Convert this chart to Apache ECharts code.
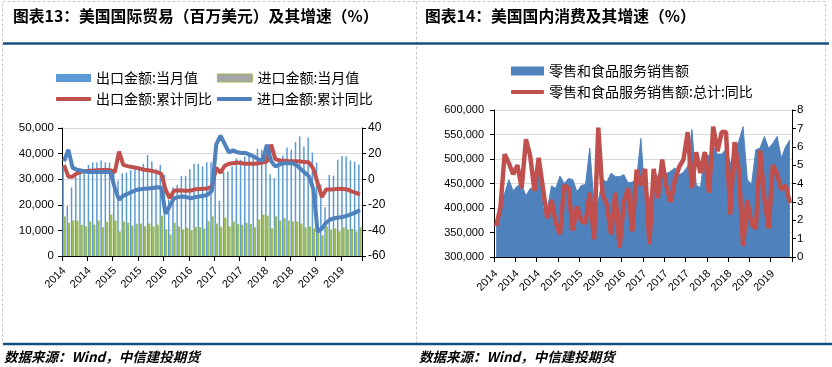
<!DOCTYPE html>
<html><head><meta charset="utf-8">
<script src="https://cdn.jsdelivr.net/npm/echarts@6/dist/echarts.min.js"></script>
<style>html,body{margin:0;padding:0;background:#fff}#c{width:832px;height:367px}</style>
</head><body><div id="c"></div>
<script>
// ---------- categories ----------
const tradeMonths = [
 '2014-01','2014-02','2014-03','2014-04','2014-05','2014-06','2014-07','2014-08','2014-09','2014-10','2014-11','2014-12',
 '2015-01','2015-02','2015-03','2015-04','2015-05','2015-06','2015-07','2015-08','2015-09','2015-10','2015-11','2015-12',
 '2016-01','2016-02','2016-03','2016-04','2016-05','2016-06','2016-07','2016-08','2016-09','2016-10','2016-11','2016-12',
 '2017-01','2017-02','2017-03','2017-04','2017-05','2017-06','2017-07','2017-08','2017-09','2017-10','2017-11','2017-12',
 '2018-01','2018-02','2018-03','2018-04','2018-05','2018-06','2018-07','2018-08','2018-09','2018-10','2018-11','2018-12',
 '2019-01','2019-02','2019-03','2019-04','2019-05','2019-06','2019-07','2019-08','2019-09','2019-10','2019-11'];
const retailMonths = [
 '2014-02','2014-03','2014-04','2014-05','2014-06','2014-07','2014-08','2014-09','2014-10','2014-11','2014-12',
 '2015-01','2015-02','2015-03','2015-04','2015-05','2015-06','2015-07','2015-08','2015-09','2015-10','2015-11','2015-12',
 '2016-01','2016-02','2016-03','2016-04','2016-05','2016-06','2016-07','2016-08','2016-09','2016-10','2016-11','2016-12',
 '2017-01','2017-02','2017-03','2017-04','2017-05','2017-06','2017-07','2017-08','2017-09','2017-10','2017-11','2017-12',
 '2018-01','2018-02','2018-03','2018-04','2018-05','2018-06','2018-07','2018-08','2018-09','2018-10','2018-11','2018-12',
 '2019-01','2019-02','2019-03','2019-04','2019-05','2019-06','2019-07','2019-08','2019-09','2019-10','2019-11'];

// ---------- series values ----------
const exportMonthly = [
 35000,19500,26800,31000,33000,33600,35600,36500,36500,37300,36600,36500,
 34000,29500,32300,32600,33600,34700,35000,36000,39400,36900,33900,35600,
 31700,21900,26800,27700,31300,31300,33900,36000,36000,35000,36600,36600,
 37000,21600,32900,33000,35000,38200,37600,38900,39800,38200,41900,41500,
 42100,31900,30400,37000,39300,42400,41500,44500,46700,42800,46300,40400,
 36500,27900,19000,31700,31400,37600,39100,38900,37300,36800,35700];
const importMonthly = [
 15500,13000,13900,13900,12200,11600,13500,12300,13900,11300,13400,16200,
 13900,9600,13500,13000,11900,12600,12700,11600,12700,11600,12300,15800,
 10400,8400,13000,11600,10400,11000,10000,11300,11300,10800,13600,15500,
 12700,11400,15000,11600,13500,12600,12200,13000,12600,11200,14300,16200,
 15800,10800,15500,13900,14800,13900,13500,13500,12700,11200,11600,10800,
 10400,8100,11600,10400,10800,9600,11200,10400,10600,9600,11200];
const exportYoY = [
 11,2,2,4.5,5.8,6.3,6.6,6.8,7,7.2,7.2,7,
 5.5,21.5,11.2,10.2,9.6,9,8.2,7.3,7,6.3,5.5,4.2,
 -8,-15,-9,-8.6,-8.8,-9,-8.8,-7.9,-7.6,-7.4,-7.2,-5.5,
 9,5,10.5,12,12.5,13,12.5,12,12,12,12.5,13,
 14,27,15.5,14.8,14.5,14.2,14,14,13.8,13.5,13,8,
 -3,-14,-8,-8,-7.8,-7.5,-7.6,-8,-9.5,-10.5,-12];
const importYoY = [
 14,23,9,7.5,6.8,6,5.7,5.7,5.7,5.7,5.7,5.5,
 -7,-16,-13,-11.5,-10,-8.5,-7.8,-7.5,-7.3,-6.8,-6.3,-6.5,
 -27,-21,-15,-14,-13.5,-14,-15,-14,-13.5,-13,-12,-9,
 27,34,27.5,21,22.5,21,20.5,20.5,19,17.5,15.5,14.5,
 27,14,10,11.5,12.5,12.5,12.5,11,8,5,2,-8,
 -41,-38.5,-34,-31.5,-30.5,-30,-29.5,-28.5,-27.3,-26,-24];
const retailSales = [
 370000,415000,430000,458000,435000,445000,447000,425000,440000,440000,490000,400000,
 395000,445000,440000,465000,450000,460000,458000,433000,446000,448000,522000,407000,
 415000,458000,453000,471000,464000,464000,468000,451000,453000,458000,542000,420000,
 415000,470000,465000,483000,470000,475000,482000,468000,473000,485000,560000,447000,
 441000,515000,505000,525000,510000,510000,520000,490000,519000,536000,566000,458000,
 448000,519000,522000,546000,522000,532000,546000,502000,525000,539000];
const retailYoY = [
 1.68,2.67,5.6,5.1,4.5,5,3.75,6.4,5.5,3.6,5.4,3.75,
 2.1,3.1,1.86,1.23,3.9,3.75,1.44,2.76,1.95,1.86,3.5,0.96,
 7.04,3.4,2.85,1.23,3.5,0.5,3.0,3.75,1.4,4.75,3.9,4.8,
 0.69,4.8,3.2,5.3,3.85,3.0,4.2,4.9,5.3,6.8,3.75,5.7,
 4.57,5.7,3.5,7.1,5.75,6.8,6.8,2.3,6.25,4.75,0.6,3.1,
 1.77,1.55,5.8,3.2,1.55,5.0,4.5,3.66,3.9,2.94];

// ---------- texts ----------
const titleLeft = '图表13：美国国际贸易（百万美元）及其增速（%）';
const titleRight = '图表14：美国国内消费及其增速（%）';
const sourceText = '数据来源：Wind，中信建投期货';
const nameExport = '出口金额:当月值', nameImport = '进口金额:当月值';
const nameExportYoY = '出口金额:累计同比', nameImportYoY = '进口金额:累计同比';
const nameRetail = '零售和食品服务销售额', nameRetailYoY = '零售和食品服务销售额:总计:同比';

const cjk = '"Noto Sans CJK SC", sans-serif';
const latin = '"Liberation Sans", Arial, sans-serif';
const fmt = v => String(v).replace(/\B(?=(\d{3})+(?!\d))/g, ',');
const yearOf = v => v.slice(0, 4);

const axisLineStyle = {show: true, lineStyle: {color: '#000', width: 1}};
const axisTickStyle = {show: true, length: 4, lineStyle: {color: '#000'}};
const gridLine = {show: true, lineStyle: {color: '#D9D9D9', width: 1}};
const yLabel = {color: '#000', fontSize: 11.5, fontFamily: latin, formatter: fmt};

const chart = echarts.init(document.getElementById('c'), null, {width: 832, height: 367});
chart.setOption({
  animation: false,
  backgroundColor: '#fff',
  title: [
    {text: titleLeft, left: 13, top: 8, padding: 0, textStyle: {fontSize: 15.8, fontWeight: 'bold', color: '#000', fontFamily: cjk}},
    {text: titleRight, left: 425, top: 8, padding: 0, textStyle: {fontSize: 15.8, fontWeight: 'bold', color: '#000', fontFamily: cjk}}
  ],
  graphic: [
    {type: 'rect', silent: true, shape: {x: 2.5, y: 1.5, width: 823, height: 342}, style: {fill: 'none', stroke: '#C8C8C8', lineWidth: 1, lineDash: [3, 2]}},
    {type: 'line', silent: true, shape: {x1: 416.5, y1: 1.5, x2: 416.5, y2: 343}, style: {stroke: '#C8C8C8', lineWidth: 1, lineDash: [3, 2]}},
    {type: 'line', silent: true, shape: {x1: 3, y1: 43.5, x2: 829, y2: 43.5}, style: {stroke: '#14507F', lineWidth: 2.5}},
    {type: 'line', silent: true, shape: {x1: 3, y1: 344, x2: 832, y2: 344}, style: {stroke: '#14507F', lineWidth: 2.5}},
    {type: 'text', silent: true, x: 4, y: 357, style: {text: sourceText, font: 'italic bold 13.5px "Noto Sans CJK SC"', fill: '#000', verticalAlign: 'middle', textVerticalAlign: 'middle'}},
    {type: 'text', silent: true, x: 419, y: 357, style: {text: sourceText, font: 'italic bold 13.5px "Noto Sans CJK SC"', fill: '#000', verticalAlign: 'middle', textVerticalAlign: 'middle'}}
  ],
  legend: [
    {data: [{name: nameExport}, {name: nameImport, itemStyle: {color: '#A5A5A5', borderColor: '#9BBB59', borderWidth: 1}}],
     left: 56, top: 71, padding: 0, icon: 'rect', itemWidth: 35, itemHeight: 8, itemGap: 19,
     textStyle: {fontSize: 14, color: '#000', fontFamily: cjk}},
    {data: [nameExportYoY, nameImportYoY], left: 56, top: 92, padding: 0, icon: 'roundRect', itemWidth: 35, itemHeight: 4, itemGap: 5,
     textStyle: {fontSize: 14, color: '#000', fontFamily: cjk}},
    {data: [nameRetail], left: 511, top: 64, padding: 0, icon: 'rect', itemWidth: 33, itemHeight: 9,
     textStyle: {fontSize: 14, color: '#000', fontFamily: cjk}},
    {data: [nameRetailYoY], left: 511, top: 85, padding: 0, icon: 'roundRect', itemWidth: 33, itemHeight: 4,
     textStyle: {fontSize: 14, color: '#000', fontFamily: cjk}}
  ],
  grid: [
    {left: 62, top: 128, width: 300, height: 128},
    {left: 494, top: 110, width: 298, height: 147}
  ],
  xAxis: [
    {type: 'category', gridIndex: 0, data: tradeMonths, boundaryGap: true,
     axisLine: axisLineStyle, axisTick: {show: true, interval: 5, length: 5, lineStyle: {color: '#000'}},
     axisLabel: {interval: 5, rotate: 45, formatter: yearOf, fontSize: 11, color: '#000', fontFamily: latin, margin: 13},
     splitLine: {show: false}},
    {type: 'category', gridIndex: 1, data: retailMonths, boundaryGap: true,
     axisLine: axisLineStyle, axisTick: {show: true, interval: 4, length: 5, lineStyle: {color: '#000'}},
     axisLabel: {interval: 4, rotate: 45, formatter: yearOf, fontSize: 11, color: '#000', fontFamily: latin, margin: 15},
     splitLine: {show: false}}
  ],
  yAxis: [
    {type: 'value', gridIndex: 0, min: 0, max: 50000, interval: 10000, axisLine: axisLineStyle, axisTick: axisTickStyle,
     splitLine: gridLine, axisLabel: Object.assign({}, yLabel, {margin: 8})},
    {type: 'value', gridIndex: 0, position: 'right', min: -60, max: 40, interval: 20, axisLine: axisLineStyle, axisTick: axisTickStyle,
     splitLine: {show: false}, axisLabel: {color: '#000', fontSize: 12, fontFamily: latin, margin: 6}},
    {type: 'value', gridIndex: 1, min: 300000, max: 600000, interval: 50000, axisLine: axisLineStyle, axisTick: axisTickStyle,
     splitLine: gridLine, axisLabel: Object.assign({}, yLabel, {fontSize: 11, margin: 10})},
    {type: 'value', gridIndex: 1, position: 'right', min: 0, max: 8, interval: 1, axisLine: axisLineStyle, axisTick: axisTickStyle,
     splitLine: {show: false}, axisLabel: {color: '#000', fontSize: 11.5, fontFamily: latin, margin: 5}}
  ],
  series: [
    {name: nameExport, type: 'bar', xAxisIndex: 0, yAxisIndex: 0, data: exportMonthly, barWidth: 1.5, barGap: '-30%',
     itemStyle: {color: '#5B9BD5'}},
    {name: nameImport, type: 'bar', xAxisIndex: 0, yAxisIndex: 0, data: importMonthly, barWidth: 2.5,
     itemStyle: {color: '#9BBB59'}},
    {name: nameExportYoY, type: 'line', xAxisIndex: 0, yAxisIndex: 1, data: exportYoY, symbol: 'none', z: 3,
     itemStyle: {color: '#C0504D'}, lineStyle: {color: '#C0504D', width: 4}},
    {name: nameImportYoY, type: 'line', xAxisIndex: 0, yAxisIndex: 1, data: importYoY, symbol: 'none', z: 4,
     itemStyle: {color: '#4F81BD'}, lineStyle: {color: '#4F81BD', width: 4}},
    {name: nameRetail, type: 'line', xAxisIndex: 1, yAxisIndex: 2, data: retailSales, symbol: 'none',
     itemStyle: {color: '#4F81BD'}, lineStyle: {color: '#4F81BD', width: 1}, areaStyle: {color: '#4F81BD', opacity: 1, origin: 'start'}},
    {name: nameRetailYoY, type: 'line', xAxisIndex: 1, yAxisIndex: 3, data: retailYoY, symbol: 'none', z: 4,
     itemStyle: {color: '#C0504D'}, lineStyle: {color: '#C0504D', width: 4.5}}
  ]
});
</script>
</body></html>
